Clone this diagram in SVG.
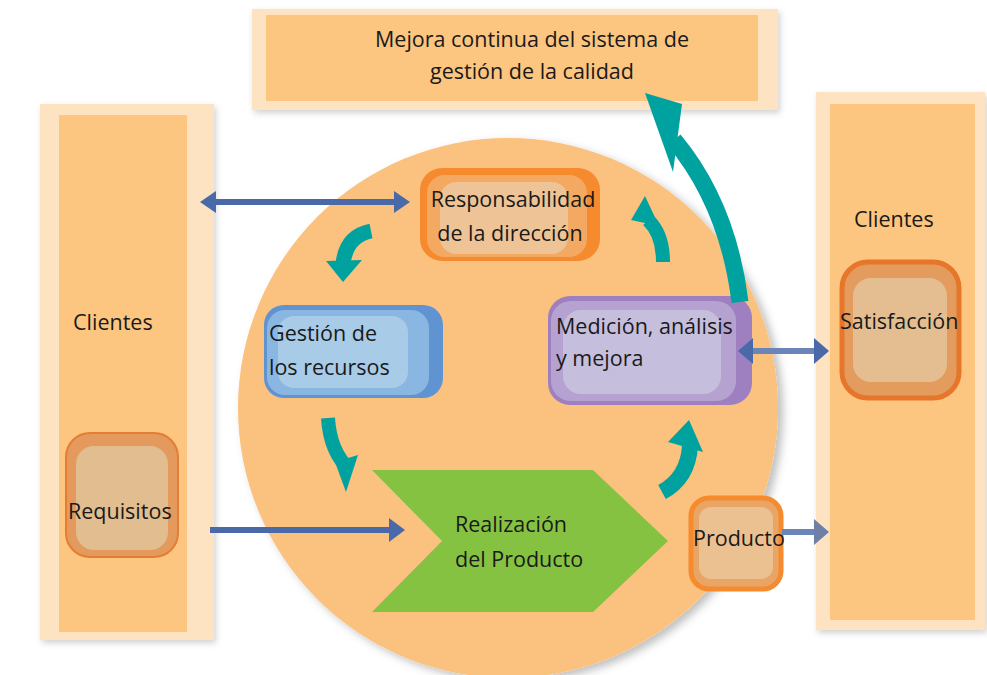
<svg xmlns="http://www.w3.org/2000/svg" width="987" height="675" viewBox="0 0 987 675">
<defs>
<style>
.t{font-family:"Open Sans","Noto Sans",sans-serif;font-size:21.5px;fill:#1a1a1a}
.light{fill:#fde3c1}
.band{fill:#fcc580}
.blue{stroke:#4a69a8;stroke-width:6;fill:none}
.bh{fill:#4a69a8}
.teal{stroke:#00a29f;fill:none;stroke-linecap:butt}
.th{fill:#00a29f}
</style>
<filter id="sh" x="-10%" y="-10%" width="125%" height="125%">
<feDropShadow dx="5" dy="4" stdDeviation="4" flood-color="#000" flood-opacity="0.25"/>
</filter>
<filter id="sh2" x="-10%" y="-10%" width="120%" height="120%">
<feDropShadow dx="2" dy="3" stdDeviation="3" flood-color="#000" flood-opacity="0.18"/>
</filter>
</defs>
<rect width="987" height="675" fill="#ffffff"/>

<g id="top-box">
<rect x="252" y="9" width="526" height="101" class="light" filter="url(#sh2)"/>
<rect x="266" y="15" width="492" height="86" class="band"/>
<text class="t" x="532" y="47" text-anchor="middle">Mejora continua del sistema de</text>
<text class="t" x="532" y="79" text-anchor="middle">gestión de la calidad</text>
</g>

<g id="clientes-left">
<rect x="40" y="104" width="174" height="536" class="light" filter="url(#sh2)"/>
<rect x="59" y="115" width="128" height="517" class="band"/>
<text class="t" x="73" y="330">Clientes</text>
</g>

<g id="clientes-right">
<rect x="816" y="92" width="169" height="538" class="light" filter="url(#sh2)"/>
<rect x="830" y="104" width="145" height="516" class="band"/>
<text class="t" x="854" y="227">Clientes</text>
</g>

<g id="circle">
<circle cx="508" cy="408" r="270" fill="#fbc17f" filter="url(#sh)"/>
</g>

<g id="requisitos">
<rect x="66" y="433" width="112" height="124" rx="24" fill="#e39a5c" stroke="#e47d33" stroke-width="2"/>
<rect x="76" y="446" width="92" height="104" rx="18" fill="#e2bd8f"/>
<text class="t" x="68" y="519">Requisitos</text>
</g>

<g id="satisfaccion">
<rect x="842" y="262" width="117" height="136" rx="26" fill="#e39c5e" stroke="#e6772a" stroke-width="5"/>
<rect x="853" y="278" width="94" height="104" rx="18" fill="#e4be90"/>
<text class="t" x="840" y="329">Satisfacción</text>
</g>

<g id="responsabilidad">
<rect x="420" y="168" width="180" height="93" rx="22" fill="#f58b2e"/>
<rect x="427" y="175" width="160" height="82" rx="18" fill="#f3a961"/>
<rect x="440" y="182" width="128" height="72" rx="16" fill="#eec396"/>
<text class="t" x="513" y="207" text-anchor="middle">Responsabilidad</text>
<text class="t" x="510" y="241" text-anchor="middle">de la dirección</text>
</g>

<g id="gestion">
<rect x="264" y="305" width="179" height="93" rx="20" fill="#5f93d2"/>
<rect x="267" y="310" width="162" height="85" rx="18" fill="#8ab6e2"/>
<rect x="278" y="316" width="130" height="72" rx="16" fill="#a8cbe7"/>
<text class="t" x="269" y="341">Gestión de</text>
<text class="t" x="269" y="375">los recursos</text>
</g>

<g id="medicion">
<rect x="548" y="296" width="204" height="109" rx="22" fill="#9e80c0"/>
<rect x="551" y="301" width="185" height="100" rx="20" fill="#b6a2d1"/>
<rect x="563" y="310" width="158" height="84" rx="18" fill="#c6bedd"/>
<text class="t" x="556" y="334">Medición, análisis</text>
<text class="t" x="556" y="366">y mejora</text>
</g>

<g id="realizacion">
<polygon points="372,470 593,470 668,541 593,612 372,612 442,541" fill="#86c241"/>
<text class="t" x="455" y="532">Realización</text>
<text class="t" x="455" y="567">del Producto</text>
</g>

<g id="producto">
<rect x="691" y="498" width="90" height="91" rx="18" fill="#e8a566" stroke="#f58b2e" stroke-width="5"/>
<rect x="699" y="507" width="74" height="72" rx="12" fill="#ecc192"/>
<text class="t" x="693" y="546">Producto</text>
</g>

<g id="connectors">
<line class="blue" x1="214" y1="202" x2="396" y2="202"/>
<polygon class="bh" points="200,202 216,191 216,213"/>
<polygon class="bh" points="410,202 394,191 394,213"/>
<line class="blue" x1="210" y1="530" x2="392" y2="530"/>
<polygon class="bh" points="405,530 389,518 389,542"/>
<line class="blue" x1="752" y1="351" x2="815" y2="351" style="stroke:#6b85b8"/>
<polygon class="bh" points="738,351 753,338 753,364"/>
<polygon class="bh" points="829,351 814,338 814,364"/>
<line class="blue" x1="782" y1="532" x2="815" y2="532" style="stroke:#6b85b8"/>
<polygon class="bh" points="829,532 814,519 814,545" style="fill:#6f7fa8"/>

<path class="teal" d="M740 302 Q 728 205 674 140" stroke-width="17"/>
<polygon class="th" points="645,93 682,104 673,172"/>

<path class="teal" d="M371 231 Q 346 236 343 264" stroke-width="15"/>
<polygon class="th" points="326,261 362,260 343,282"/>

<path class="teal" d="M328 418 Q 330 452 350 470" stroke-width="14"/>
<polygon class="th" points="335,462 358,455 346,492"/>

<path class="teal" d="M662 492 Q 688 478 690 446" stroke-width="16"/>
<polygon class="th" points="668,442 703,452 689,420"/>

<path class="teal" d="M663 262 Q 663 234 648 220" stroke-width="14"/>
<polygon class="th" points="645,196 631,220 659,226"/>
</g>
</svg>
